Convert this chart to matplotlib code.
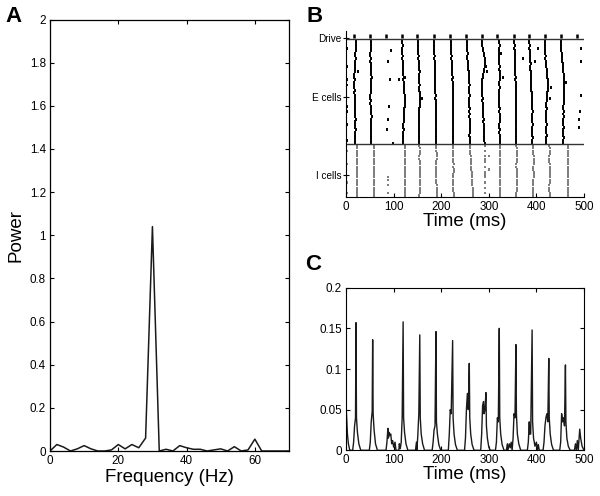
import matplotlib
matplotlib.use("Agg")
import matplotlib.pyplot as plt

plt.rcParams['font.family'] = ['Liberation Sans', 'DejaVu Sans']

# ---------------- Panel A: power spectrum ----------------
freq = [0, 2, 4, 6, 8, 10, 12, 14, 16, 18, 20, 22, 24, 26, 28, 30, 32, 34, 36, 38,
        40, 42, 44, 46, 48, 50, 52, 54, 56, 58, 60, 62, 64, 66, 68, 70]
power = [0.0, 0.03, 0.018, 0.0, 0.01, 0.025, 0.01, 0.0, 0.0, 0.005, 0.03, 0.01, 0.03, 0.015,
         0.06, 1.04, 0.0, 0.008, 0.0, 0.025, 0.015, 0.008, 0.008, 0.0, 0.005, 0.01, 0.0, 0.02,
         0.0, 0.005, 0.055, 0.0, 0.0, 0.0, 0.0, 0.0]

# ---------------- Panel B: raster ----------------
drive_times = [17, 50, 83, 117, 150, 184, 218, 252, 285, 318, 352, 385, 418, 452, 485]

# E cells: base time of each volley and per-cell offsets (ms), 40 cells top->bottom, '.' = silent
E_volley_base = [0, 16, 49, 115, 150, 184, 218, 252, 283, 318, 351, 385, 416, 451]
E_volley_offsets = [
    "1..2.1..0.2..1.3.2.10.1..2.3.1..2.0.1.2.",
    "4454433432232112111212232223334333432232",
    "3343322323334454433432232333454433343343",
    "3343334344545565667678898877676655654454",
    "1121223233435444454465556544434333433343",
    "0010112123223334434445455565555655565556",
    "2232334344545565666767667776777767776777",
    "2322343345456677787778777787878898887889",
    "2235467899877543232233434445456566767778",
    "4454343344545565445434334454556544545556",
    "2232334344545565666767667776777767776777",
    "0010112123223334434455656667666676666766",
    "2232334345566778898877665565555565556555",
    "0010122334455667787766766556565556555655",
]
# isolated E spikes (time ms, cell index from top)
E_extra_t = [94, 89, 26, 92, 112, 90, 88, 86, 99, 494, 494, 494, 492, 490, 490, 404, 372,
             294, 297, 326, 330, 398, 430, 428, 160, 124, 463]
E_extra_cell = [4, 8, 12, 15, 15, 25, 30, 34, 39, 3, 8, 21, 27, 30, 33, 3, 7,
                10, 12, 5, 14, 8, 18, 22, 22, 14, 16]

# I cells: 20 cells top->bottom
I_volley_base = [0, 22, 56, 120, 150, 186, 220, 258, 288, 320, 354, 389, 423, 464]
I_volley_offsets = [
    "1.2.1..2.1.0..2.1.2.",
    "22222222222222222222",
    "33333333333333333333",
    "44444444444444444444",
    "45554455556665556554",
    "44455544433344455566",
    "45554456566554445566",
    "23334445556667778889",
    "4.5.445.4.554.5.4.5.",
    "33333333333333333333",
    "45556554455566555544",
    "34445556445554443344",
    "45554445566655544455",
    "22222222222222222222",
]
I_extra_t = [88, 88, 88, 89, 300, 301]
I_extra_cell = [12, 13, 15, 18, 4, 9]

# ---------------- Panel C: trace ----------------
c_time = [0, 1, 3, 5, 8,
          14, 16, 18, 20, 21, 22, 24, 27, 31,
          49, 51, 53, 55, 56, 57, 59, 62, 66,
          84, 86, 88, 89, 91, 92, 94, 96, 98, 100, 103, 105,
          111, 112, 114, 116, 118, 120, 121, 123, 126, 130,
          146, 148, 149, 151, 153, 155, 156, 158, 161, 165,
          181, 183, 185, 187, 189, 190, 192, 195, 199,
          215, 217, 219, 221, 224, 225, 227, 230, 234,
          249, 251, 253, 255, 257, 259, 260, 262, 265, 269,
          283, 285, 287, 289, 290, 292, 294, 295, 297, 300, 303,
          314, 316, 318, 320, 322, 323, 325, 328, 332,
          337, 339, 340, 343, 345, 347,
          349, 351, 353, 355, 357, 358, 360, 363, 367,
          381, 383, 385, 386, 388, 391, 392, 394, 397, 400, 402, 404, 406,
          414, 416, 418, 420, 422, 424, 426, 427, 429, 432, 436,
          449, 451, 453, 455, 457, 459, 461, 462, 464, 467, 471,
          480, 482, 484, 486, 488, 491, 493, 496, 500]
c_value = [0.055, 0.045, 0.02, 0.008, 0.0,
           0.0, 0.01, 0.03, 0.04, 0.157, 0.04, 0.022, 0.008, 0.0,
           0.0, 0.01, 0.035, 0.048, 0.136, 0.045, 0.025, 0.008, 0.0,
           0.0, 0.01, 0.027, 0.015, 0.022, 0.018, 0.02, 0.008, 0.012, 0.004, 0.01, 0.0,
           0.0, 0.008, 0.002, 0.01, 0.04, 0.158, 0.04, 0.022, 0.008, 0.0,
           0.0, 0.01, 0.0, 0.02, 0.045, 0.142, 0.04, 0.02, 0.008, 0.0,
           0.0, 0.01, 0.025, 0.03, 0.146, 0.035, 0.02, 0.007, 0.0,
           0.0, 0.02, 0.05, 0.045, 0.135, 0.04, 0.02, 0.007, 0.0,
           0.0, 0.015, 0.05, 0.07, 0.05, 0.107, 0.04, 0.02, 0.007, 0.0,
           0.0, 0.02, 0.055, 0.06, 0.045, 0.05, 0.071, 0.03, 0.015, 0.004, 0.0,
           0.0, 0.01, 0.04, 0.035, 0.15, 0.04, 0.02, 0.007, 0.0,
           0.0, 0.008, 0.0, 0.008, 0.003, 0.01,
           0.0, 0.015, 0.045, 0.04, 0.13, 0.045, 0.02, 0.008, 0.0,
           0.0, 0.01, 0.035, 0.02, 0.02, 0.148, 0.035, 0.015, 0.005, 0.01, 0.0, 0.007, 0.0,
           0.0, 0.01, 0.03, 0.04, 0.045, 0.035, 0.113, 0.04, 0.02, 0.007, 0.0,
           0.0, 0.01, 0.045, 0.035, 0.04, 0.03, 0.105, 0.035, 0.015, 0.005, 0.0,
           0.0, 0.008, 0.0, 0.012, 0.0, 0.026, 0.015, 0.005, 0.0]

W, H = 600, 496
fig = plt.figure(figsize=(6, 4.96), dpi=100)


def frac(l, t, r, b):
    return [l / W, 1 - b / H, (r - l) / W, (b - t) / H]


tick_fs = 8.4
lab_fs = 13.5

# ---- A ----
axA = fig.add_axes(frac(50, 19.5, 289, 451))
axA.plot(freq, power, color='#1a1a1a', lw=1.1)
axA.set_xlim(0, 70)
axA.set_ylim(0, 2)
axA.set_xticks([0, 20, 40, 60])
axA.set_yticks([0, 0.2, 0.4, 0.6, 0.8, 1, 1.2, 1.4, 1.6, 1.8, 2])
axA.set_yticklabels(['0', '0.2', '0.4', '0.6', '0.8', '1', '1.2', '1.4', '1.6', '1.8', '2'])
axA.tick_params(direction='in', length=3, labelsize=tick_fs, top=True, right=True, pad=3)
axA.set_xlabel('Frequency (Hz)', fontsize=lab_fs, labelpad=1)
axA.set_ylabel('Power', fontsize=lab_fs, labelpad=4)
for s in axA.spines.values():
    s.set_linewidth(0.9)

# ---- B ----
axB = fig.add_axes(frac(346, 31, 584, 197))
nE, nI = 40, 20
E_top = nI + nE  # y of drive line
xs, y0, y1 = [], [], []
for base, offs in zip(E_volley_base, E_volley_offsets):
    for c, ch in enumerate(offs):
        if ch != '.':
            yc = E_top - c - 0.5
            xs.append(base + int(ch)); y0.append(yc - 0.55); y1.append(yc + 0.55)
for t, c in zip(E_extra_t, E_extra_cell):
    yc = E_top - c - 0.5
    xs.append(t); y0.append(yc - 0.55); y1.append(yc + 0.55)
axB.vlines(xs, y0, y1, color='black', lw=1.4)

xs, y0, y1 = [], [], []
for base, offs in zip(I_volley_base, I_volley_offsets):
    for c, ch in enumerate(offs):
        if ch != '.':
            yc = nI - c - 0.5
            xs.append(base + int(ch)); y0.append(yc - 0.45); y1.append(yc + 0.45)
for t, c in zip(I_extra_t, I_extra_cell):
    yc = nI - c - 0.5
    xs.append(t); y0.append(yc - 0.45); y1.append(yc + 0.45)
axB.vlines(xs, y0, y1, color='#666666', lw=1.2)

axB.vlines(drive_times, E_top + 0.3, E_top + 2.0, color='black', lw=1.8)
axB.axhline(E_top, color='#333333', lw=1.0)
axB.axhline(nI, color='#333333', lw=1.0)
axB.set_xlim(0, 500)
axB.set_ylim(0, 63)
axB.spines['top'].set_visible(False)
axB.spines['right'].set_visible(False)
axB.set_xticks([0, 100, 200, 300, 400, 500])
axB.set_yticks([E_top + 0.5, 38, 8.3])
axB.set_yticklabels(['Drive', 'E cells', 'I cells'], fontsize=7.2)
axB.tick_params(axis='x', direction='in', length=3, labelsize=tick_fs, pad=3)
axB.tick_params(axis='y', direction='inout', length=4, pad=1)
axB.set_xlabel('Time (ms)', fontsize=lab_fs, labelpad=0)

# ---- C ----
axC = fig.add_axes(frac(346, 287.7, 584, 450.3))
axC.plot(c_time, c_value, color='#1a1a1a', lw=1.0)
axC.set_xlim(0, 500)
axC.set_ylim(0, 0.2)
axC.set_xticks([0, 100, 200, 300, 400, 500])
axC.set_yticks([0, 0.05, 0.1, 0.15, 0.2])
axC.set_yticklabels(['0', '0.05', '0.1', '0.15', '0.2'])
axC.tick_params(direction='in', length=3, labelsize=tick_fs, top=True, right=True, pad=3)
axC.set_xlabel('Time (ms)', fontsize=lab_fs, labelpad=0)

# panel letters
fig.text(5 / W, 1 - 17 / H, 'A', fontsize=16, fontweight='bold', va='center', ha='left')
fig.text(306 / W, 1 - 17 / H, 'B', fontsize=16, fontweight='bold', va='center', ha='left')
fig.text(305 / W, 1 - 265 / H, 'C', fontsize=16, fontweight='bold', va='center', ha='left')

fig.savefig('out.png', dpi=100)
